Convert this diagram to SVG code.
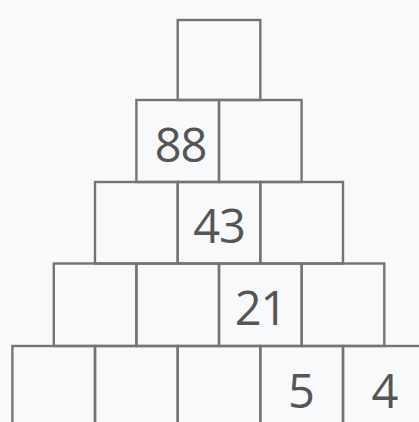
<svg xmlns="http://www.w3.org/2000/svg" width="419" height="422" viewBox="0 0 419 422">
<style>
.cell rect{fill:none;stroke:#747474;stroke-width:2.4}
.num{font-family:"Open Sans","DejaVu Sans",sans-serif;font-size:47px;fill:#555;text-anchor:middle}
.two{letter-spacing:-1px}
</style>
<rect x="0" y="0" width="419" height="422" fill="#f8f9fb"/>
<g id="r1c1" class="cell"><rect x="177.7" y="20" width="82.6" height="80"/></g>
<g id="r2c1" class="cell"><rect x="136.4" y="100" width="82.6" height="82"/><text class="num two" x="180.5" y="162">88</text></g>
<g id="r2c2" class="cell"><rect x="219" y="100" width="82.6" height="82"/></g>
<g id="r3c1" class="cell"><rect x="95" y="182" width="82.7" height="81.5"/></g>
<g id="r3c2" class="cell"><rect x="177.7" y="182" width="82.6" height="81.5"/><text class="num two" x="219" y="243">43</text></g>
<g id="r3c3" class="cell"><rect x="260.3" y="182" width="82.7" height="81.5"/></g>
<g id="r4c1" class="cell"><rect x="53.8" y="263.5" width="82.6" height="82.5"/></g>
<g id="r4c2" class="cell"><rect x="136.4" y="263.5" width="82.6" height="82.5"/></g>
<g id="r4c3" class="cell"><rect x="219" y="263.5" width="82.7" height="82.5"/><text class="num two" x="260.5" y="325">21</text></g>
<g id="r4c4" class="cell"><rect x="301.7" y="263.5" width="82.6" height="82.5"/></g>
<g id="r5c1" class="cell"><rect x="12.4" y="346" width="82.6" height="90"/></g>
<g id="r5c2" class="cell"><rect x="95" y="346" width="82.7" height="90"/></g>
<g id="r5c3" class="cell"><rect x="177.7" y="346" width="82.6" height="90"/></g>
<g id="r5c4" class="cell"><rect x="260.3" y="346" width="82.7" height="90"/><text class="num" x="301.5" y="408">5</text></g>
<g id="r5c5" class="cell"><rect x="343" y="346" width="82.6" height="90"/><text class="num" x="385" y="408">4</text></g>
<g id="connectors"/>
</svg>
